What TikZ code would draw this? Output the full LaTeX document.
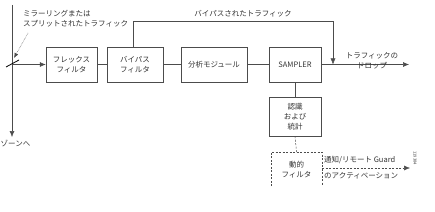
\documentclass[tikz,border=0pt]{standalone}
\usepackage{fontspec}
\setmainfont{Noto Sans CJK JP}
\usetikzlibrary{arrows.meta}
\begin{document}
\begin{tikzpicture}[x=1pt,y=-1pt,
  every node/.style={font=\fontsize{7.5}{10}\selectfont,text=black!80},
  blk/.style={draw=black!70,line width=0.5pt,minimum width=52pt,minimum height=35pt,align=center,inner sep=0pt},
  conn/.style={draw=black!70,line width=0.5pt},
  arr/.style={conn,-{Latex[length=6pt,width=5pt]}},
  lbl/.style={align=center,inner sep=0pt}]
\useasboundingbox (0,0) rectangle (435,211);
\node[blk,minimum width=51pt] (flex) at (71.5,64.5) {フレックス\\フィルタ};
\node[blk,minimum width=56pt] (byp) at (135,64.5) {バイパス\\フィルタ};
\node[blk,minimum width=66pt] (ana) at (214,64.5) {分析モジュール};
\node[blk] (smp) at (295,64.5) {SAMPLER};
\node[blk,minimum height=39pt] (rec) at (295,116.5) {認識\\および\\統計};
% dashed box, open at bottom
\coordinate (dl) at (271,186);
\coordinate (dr) at (322,186);
\draw[black!70,line width=0.5pt,dash pattern=on 2pt off 1.5pt] (dl) |- (322,152) -- (dr);
\node[lbl] (dyn) at (296.5,170) {動的\\フィルタ};
\coordinate (dtop) at (296.5,152);
\coordinate (dright) at (322,168);
% left vertical line
\coordinate (vt) at (12,5);
\coordinate (vb) at (12,137);
\draw[arr] (vt) -- (vb);
\node[lbl,anchor=west] (zone) at (0.5,143) {ゾーンへ};
\coordinate (vin) at (12,64.5);
\draw[arr] (vin) -- (flex.west);
% slash marks
\coordinate (s1a) at (6,67); \coordinate (s1b) at (19,60);
\draw[black,line width=0.8pt] (s1a) -- (s1b);
\node[lbl,align=left,anchor=north west] (mir) at (23,10) {ミラーリングまたは\\スプリットされたトラフィック};
\coordinate (ma) at (28,33); \coordinate (mb) at (14,58);
\draw[black!70,line width=0.5pt,densely dotted,-{Latex[length=5pt,width=4pt]}] (ma) -- (mb);
% chain
\draw[conn] (flex) -- (byp);
\draw[conn] (byp) -- (ana);
\draw[conn] (ana) -- (smp);
\coordinate (out) at (409,64.5);
\draw[arr] (smp.east) -- (out);
\coordinate (bp1) at (133,21);
\coordinate (bp2) at (333,21);
\coordinate (bp3) at (333,64.5);
\draw[arr] (byp.north -| bp1) -- (bp1) -- (bp2) -- (bp3);
\node[lbl] (bpt) at (243,14) {バイパスされたトラフィック};
\node[lbl] (drop) at (372,61) {トラフィックの\\ドロップ};
\draw[conn] (smp) -- (rec);
\draw[black!70,line width=0.5pt,dash pattern=on 2pt off 1.5pt] (rec.south) -- (dtop);
\coordinate (nout) at (410,168);
\draw[black!70,line width=0.5pt,dash pattern=on 2pt off 1.5pt,-{Latex[length=6pt,width=5pt]}] (dright) -- (nout);
\node[lbl,anchor=west] (n1) at (324,160) {通知/リモート Guard};
\node[lbl,anchor=west] (n2) at (324,176) {のアクティベーション};
\node[lbl,rotate=-90,font=\fontsize{4}{4}\selectfont] (id) at (415,158) {119384};
\end{tikzpicture}
\end{document}
